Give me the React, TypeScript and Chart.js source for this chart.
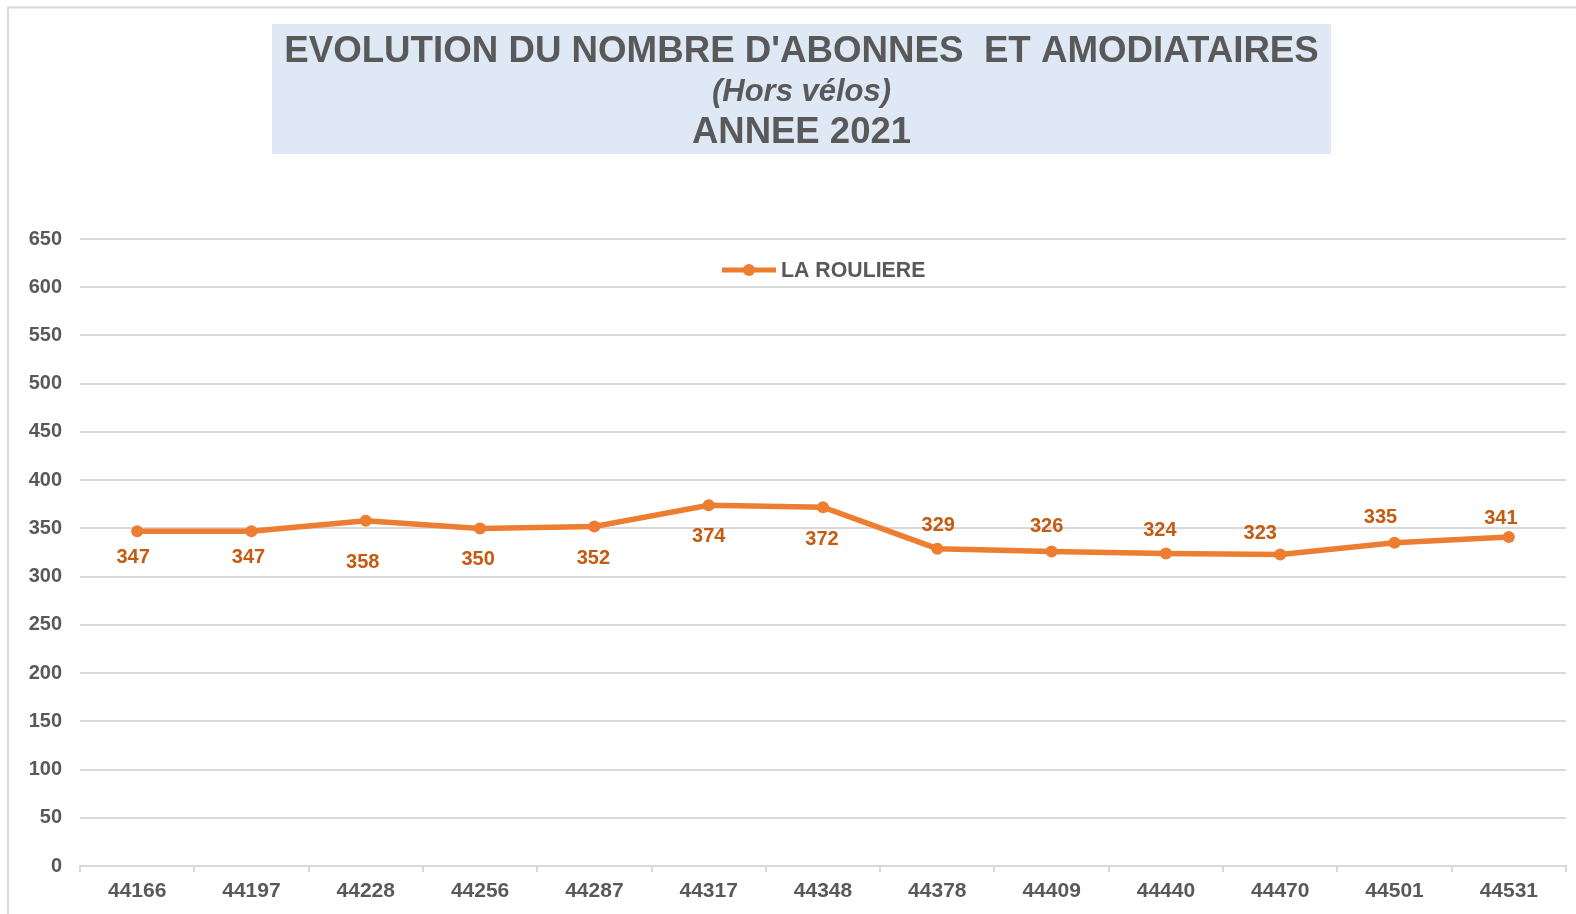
import React, { useEffect, useRef } from "react";
import { Chart, registerables } from "chart.js";

Chart.register(...registerables);

const categories = ["44166", "44197", "44228", "44256", "44287", "44317", "44348", "44378", "44409", "44440", "44470", "44501", "44531"];
const seriesName = "LA ROULIERE";
const values = [347, 347, 358, 350, 352, 374, 372, 329, 326, 324, 323, 335, 341];
const yTicksMin = 0;
const yTicksMax = 650;
const yTicksStep = 50;
const titleLines = ["EVOLUTION DU NOMBRE D'ABONNES  ET AMODIATAIRES", "(Hors vélos)", "ANNEE 2021"];

// data-label offsets relative to each point (style only)
const labelDx = [-4, -3, -3, -2, -1, 0, -1, 1, -5, -6, -20, -14, -8];
const labelDy = [25, 25, 41, 30, 31, 30, 31, -24, -26, -24, -22, -26, -20];

const FONT = "'Liberation Sans', Arial, sans-serif";
const GRAY = "#595959";
const ORANGE = "#ed7d31";
const LABEL = "#c55a11";
const GRID = "#d9d9d9";

const decorPlugin = {
  id: "decor",
  beforeDraw(chart: any) {
    const ctx = chart.ctx;
    ctx.save();
    ctx.fillStyle = "#ffffff";
    ctx.fillRect(0, 0, chart.width, chart.height);
    // frame
    ctx.strokeStyle = GRID;
    ctx.lineWidth = 2;
    ctx.beginPath();
    ctx.moveTo(8, chart.height);
    ctx.lineTo(8, 7.5);
    ctx.lineTo(chart.width, 7.5);
    ctx.stroke();
    // title box
    ctx.fillStyle = "#dee9f5";
    ctx.fillRect(272, 24, 1331 - 272, 154 - 24);
    ctx.fillStyle = GRAY;
    ctx.textAlign = "center";
    ctx.textBaseline = "middle";
    const cx = (272 + 1331) / 2;
    ctx.font = `bold 36.7px ${FONT}`;
    ctx.fillText(titleLines[0], cx, 52);
    ctx.font = `italic bold 31px ${FONT}`;
    ctx.fillText(titleLines[1], cx, 92);
    ctx.font = `bold 36.5px ${FONT}`;
    ctx.fillText(titleLines[2], cx, 133);
    ctx.restore();
  },
  afterDatasetsDraw(chart: any) {
    const ctx = chart.ctx;
    const meta = chart.getDatasetMeta(0);
    ctx.save();
    ctx.font = `bold 20px ${FONT}`;
    ctx.fillStyle = LABEL;
    ctx.textAlign = "center";
    ctx.textBaseline = "middle";
    meta.data.forEach((pt: any, i: number) => {
      ctx.fillText(String(values[i]), pt.x + labelDx[i], pt.y + labelDy[i] + 1);
    });
    // legend
    const ly = 270;
    ctx.strokeStyle = ORANGE;
    ctx.lineWidth = 5;
    ctx.beginPath();
    ctx.moveTo(722, ly);
    ctx.lineTo(776, ly);
    ctx.stroke();
    ctx.fillStyle = ORANGE;
    ctx.beginPath();
    ctx.arc(749, ly, 6, 0, Math.PI * 2);
    ctx.fill();
    ctx.fillStyle = GRAY;
    ctx.font = `bold 21.3px ${FONT}`;
    ctx.textAlign = "left";
    ctx.fillText(seriesName, 781, ly + 1);
    ctx.restore();
  },
};

export default function App() {
  const ref = useRef<HTMLCanvasElement>(null);
  useEffect(() => {
    document.body.style.margin = "0";
    const chart = new Chart(ref.current as HTMLCanvasElement, {
      type: "line",
      data: {
        labels: categories,
        datasets: [
          {
            label: seriesName,
            data: values,
            borderColor: ORANGE,
            backgroundColor: ORANGE,
            borderWidth: 5.5,
            pointRadius: 6,
            pointBorderWidth: 0,
            pointBackgroundColor: ORANGE,
            tension: 0,
          },
        ],
      },
      options: {
        responsive: false,
        animation: false,
        layout: { padding: { top: 239, right: 10, left: 0, bottom: 0 } },
        plugins: {
          legend: { display: false },
          title: { display: false },
          tooltip: { enabled: false },
        },
        scales: {
          x: {
            offset: true,
            grid: { offset: true, drawOnChartArea: false, drawTicks: true, tickLength: 6, color: GRID, lineWidth: 2 },
            border: { color: GRID, width: 2 },
            ticks: { font: { family: FONT, size: 21, weight: "bold" }, color: GRAY, padding: 7, maxRotation: 0, autoSkip: false },
            afterFit: (s: any) => { s.height = 48; },
          },
          y: {
            min: yTicksMin,
            max: yTicksMax,
            ticks: { stepSize: yTicksStep, font: { family: FONT, size: 20, weight: "bold" }, color: GRAY, padding: 18 },
            grid: { color: GRID, lineWidth: 2, drawTicks: false },
            border: { display: false },
            afterFit: (s: any) => { s.width = 80; },
          },
        },
      } as any,
      plugins: [decorPlugin],
    });
    return () => chart.destroy();
  }, []);
  return <canvas ref={ref} width={1576} height={914} style={{ display: "block", width: 1576, height: 914 }} />;
}
